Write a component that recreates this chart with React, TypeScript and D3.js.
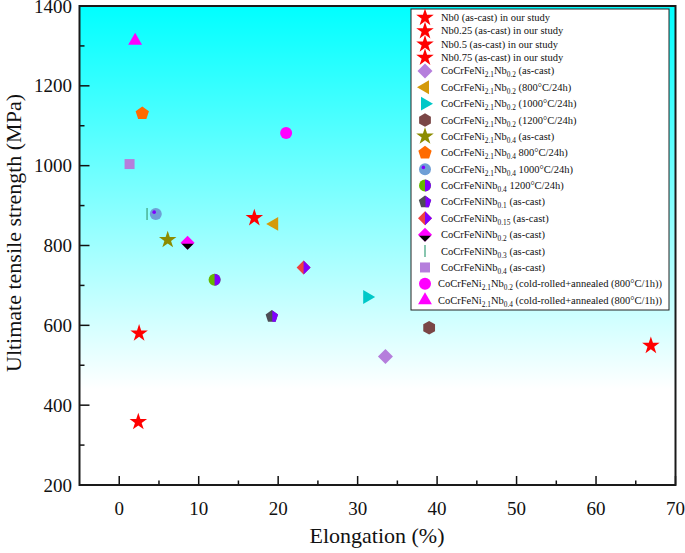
import React from "react";
import * as d3 from "d3";

// ---- data ----
const nb0 = [{ x: 2.5, y: 580 }];
const nb025 = [{ x: 2.4, y: 358 }];
const nb05 = [{ x: 17.0, y: 869 }];
const nb075 = [{ x: 66.9, y: 549 }];
const ni21nb02Cast = [{ x: 33.5, y: 522 }];
const ni21nb02_800 = [{ x: 19.5, y: 854 }];
const ni21nb02_1000 = [{ x: 31.2, y: 671 }];
const ni21nb02_1200 = [{ x: 39.0, y: 594 }];
const ni21nb04Cast = [{ x: 6.1, y: 814 }];
const ni21nb04_800 = [{ x: 2.9, y: 1131 }];
const ni21nb04_1000 = [{ x: 4.6, y: 879 }];
const nb04_1200 = [{ x: 12.0, y: 714 }];
const nb01Cast = [{ x: 19.2, y: 622 }];
const nb015Cast = [{ x: 23.2, y: 745 }];
const nb02Cast = [{ x: 8.6, y: 807 }];
const nb03Cast = [{ x: 3.5, y: 879 }];
const nb04Cast = [{ x: 1.3, y: 1004 }];
const ni21nb02Cold = [{ x: 21.0, y: 1082 }];
const ni21nb04Cold = [{ x: 2.0, y: 1313 }];

const seriesLabels = [
  "Nb0 (as-cast) in our study",
  "Nb0.25 (as-cast) in our study",
  "Nb0.5 (as-cast) in our study",
  "Nb0.75 (as-cast) in our study",
  "CoCrFeNi_{2.1}Nb_{0.2} (as-cast)",
  "CoCrFeNi_{2.1}Nb_{0.2} (800°C/24h)",
  "CoCrFeNi_{2.1}Nb_{0.2} (1000°C/24h)",
  "CoCrFeNi_{2.1}Nb_{0.2} (1200°C/24h)",
  "CoCrFeNi_{2.1}Nb_{0.4} (as-cast)",
  "CoCrFeNi_{2.1}Nb_{0.4} 800°C/24h)",
  "CoCrFeNi_{2.1}Nb_{0.4} 1000°C/24h)",
  "CoCrFeNiNb_{0.4} 1200°C/24h)",
  "CoCrFeNiNb_{0.1} (as-cast)",
  "CoCrFeNiNb_{0.15} (as-cast)",
  "CoCrFeNiNb_{0.2} (as-cast)",
  "CoCrFeNiNb_{0.3} (as-cast)",
  "CoCrFeNiNb_{0.4} (as-cast)",
  "CoCrFeNi_{2.1}Nb_{0.2} (cold-rolled+annealed (800°C/1h))",
  "CoCrFeNi_{2.1}Nb_{0.4} (cold-rolled+annealed (800°C/1h))",
];
const seriesData = [
  nb0, nb025, nb05, nb075, ni21nb02Cast, ni21nb02_800, ni21nb02_1000, ni21nb02_1200,
  ni21nb04Cast, ni21nb04_800, ni21nb04_1000, nb04_1200, nb01Cast, nb015Cast, nb02Cast,
  nb03Cast, nb04Cast, ni21nb02Cold, ni21nb04Cold,
];
const seriesMarkers = [
  "star", "star", "star", "star", "diamond", "triLeft", "triRight", "hexagon",
  "oliveStar", "pentagon", "blueCircle", "halfCircle", "halfPentagon", "halfDiamondLR",
  "halfDiamondTB", "vline", "square", "circle", "triUp",
];

const xTicks = [0, 10, 20, 30, 40, 50, 60, 70];
const yTicks = [200, 400, 600, 800, 1000, 1200, 1400];

const W = 685, H = 553;
const FONT = "serif";

function polygon(n: number, r: number, rot: number) {
  const pts: [number, number][] = [];
  for (let i = 0; i < n; i++) {
    const a = rot + (i * 2 * Math.PI) / n;
    pts.push([r * Math.cos(a), r * Math.sin(a)]);
  }
  return "M" + pts.map((p) => p.join(",")).join("L") + "Z";
}

let clipCounter = 0;

function Marker({ kind, cx, cy, s = 1 }: { kind: string; cx: number; cy: number; s?: number }) {
  const t = `translate(${cx},${cy}) scale(${s})`;
  const star = d3.symbol(d3.symbolStar, 95)()!;
  const id = `clip${clipCounter++}`;
  switch (kind) {
    case "star":
      return <path d={star} transform={t} fill="#ff0000" />;
    case "oliveStar":
      return <path d={star} transform={t} fill="#8c8c00" />;
    case "diamond":
      return <path d={polygon(4, 7.5, 0)} transform={t} fill="#b57edc" />;
    case "triLeft":
      return <path d={polygon(3, 8, Math.PI)} transform={t} fill="#d49a0a" />;
    case "triRight":
      return <path d={polygon(3, 8, 0)} transform={t} fill="#00c8c8" />;
    case "triUp":
      return <path d={polygon(3, 8, -Math.PI / 2)} transform={t} fill="#ff00ff" />;
    case "hexagon":
      return <path d={polygon(6, 6.8, -Math.PI / 2)} transform={t} fill="#7a4646" />;
    case "pentagon":
      return <path d={polygon(5, 7, -Math.PI / 2)} transform={t} fill="#ff6a00" />;
    case "square":
      return <rect x={-5} y={-5} width={10} height={10} transform={t} fill="#b57edc" />;
    case "circle":
      return <circle r={6} transform={t} fill="#ff00ff" />;
    case "vline":
      return <line x1={0} x2={0} y1={-6} y2={6} transform={t} stroke="#3aa07a" strokeWidth={1.2} />;
    case "blueCircle":
      return (
        <g transform={t}>
          <circle r={6} fill="#6f9fd6" />
          <circle cx={-1.6} cy={-1.8} r={1.8} fill="#8000ff" />
        </g>
      );
    case "halfCircle":
      return (
        <g transform={t}>
          <clipPath id={id}><rect x={0} y={-10} width={10} height={20} /></clipPath>
          <circle r={6} fill="#66b800" />
          <circle r={6} fill="#7f00ff" clipPath={`url(#${id})`} />
        </g>
      );
    case "halfPentagon":
      return (
        <g transform={t}>
          <clipPath id={id}><rect x={0.5} y={-10} width={10} height={20} /></clipPath>
          <path d={polygon(5, 6.5, -Math.PI / 2)} fill="#4d4d55" />
          <path d={polygon(5, 6.5, -Math.PI / 2)} fill="#8000ff" clipPath={`url(#${id})`} />
        </g>
      );
    case "halfDiamondLR":
      return (
        <g transform={t}>
          <clipPath id={id}><rect x={0} y={-10} width={10} height={20} /></clipPath>
          <path d={polygon(4, 7, 0)} fill="#f04040" />
          <path d={polygon(4, 7, 0)} fill="#8000ff" clipPath={`url(#${id})`} />
        </g>
      );
    case "halfDiamondTB":
      return (
        <g transform={t}>
          <clipPath id={id}><rect x={-10} y={1} width={20} height={10} /></clipPath>
          <path d={polygon(4, 7, 0)} fill="#ff00ff" />
          <path d={polygon(4, 7, 0)} fill="#000000" clipPath={`url(#${id})`} />
        </g>
      );
  }
  return null;
}

function RichLabel({ text, x, y, size }: { text: string; x: number; y: number; size: number }) {
  const parts: { s: string; sub: boolean }[] = [];
  const re = /_\{([^}]*)\}/g;
  let last = 0;
  let m: RegExpExecArray | null;
  while ((m = re.exec(text))) {
    if (m.index > last) parts.push({ s: text.slice(last, m.index), sub: false });
    parts.push({ s: m[1], sub: true });
    last = m.index + m[0].length;
  }
  if (last < text.length) parts.push({ s: text.slice(last), sub: false });
  const out: React.ReactNode[] = [];
  let prevSub = false;
  parts.forEach((p, i) => {
    const dy = p.sub && !prevSub ? 3 : !p.sub && prevSub ? -3 : 0;
    out.push(
      <tspan key={i} dy={dy} fontSize={p.sub ? size * 0.7 : size}>{p.s}</tspan>
    );
    prevSub = p.sub;
  });
  return (
    <text x={x} y={y + size * 0.33} fontFamily={FONT} fontSize={size} fill="#111">
      {out}
    </text>
  );
}

export default function App() {
  clipCounter = 0;
  const x = d3.scaleLinear().domain([-5, 70]).range([79.5, 675.5]);
  const y = d3.scaleLinear().domain([200, 1400]).range([485, 6]);
  const [x0, x1] = x.range();
  const [yb, yt] = y.range();
  const xMinor = d3.range(-5, 70, 5).filter((v) => v % 10 !== 0 && v > -5);
  const yMinor = d3.range(300, 1400, 200);

  const hasSub = seriesLabels.map((l) => l.includes("_{"));
  const legendY: number[] = [];
  seriesLabels.forEach((_, i) => {
    if (i === 0) legendY.push(17.7);
    else legendY.push(legendY[i - 1] + (hasSub[i] && hasSub[i - 1] ? 16.38 : 13.3));
  });

  return (
    <svg width={W} height={H} style={{ position: "absolute", left: 0, top: 0, background: "#fff" }}>
      <defs>
        <linearGradient id="bg" x1="0" y1="0" x2="0" y2="1">
          <stop offset="0" stopColor="#00ffff" />
          <stop offset="0.8" stopColor="#ffffff" />
          <stop offset="1" stopColor="#ffffff" />
        </linearGradient>
      </defs>
      <rect x={x0} y={yt} width={x1 - x0} height={yb - yt} fill="url(#bg)" />

      {/* x ticks */}
      {xTicks.map((v) => (
        <g key={"xt" + v}>
          <line x1={x(v)} x2={x(v)} y1={yb} y2={yb - 9} stroke="#111" strokeWidth={1.5} />
          <text x={x(v)} y={yb + 30} textAnchor="middle" fontFamily={FONT} fontSize={19} fill="#111">{v}</text>
        </g>
      ))}
      {xMinor.map((v) => (
        <line key={"xm" + v} x1={x(v)} x2={x(v)} y1={yb} y2={yb - 4.5} stroke="#111" strokeWidth={1.5} />
      ))}
      {/* y ticks */}
      {yTicks.map((v) => (
        <g key={"yt" + v}>
          <line x1={x0} x2={x0 + 10} y1={y(v)} y2={y(v)} stroke="#111" strokeWidth={1.5} />
          <text x={72} y={y(v) + 6.5} textAnchor="end" fontFamily={FONT} fontSize={19} fill="#111">{v}</text>
        </g>
      ))}
      {yMinor.map((v) => (
        <line key={"ym" + v} x1={x0} x2={x0 + 5} y1={y(v)} y2={y(v)} stroke="#111" strokeWidth={1.5} />
      ))}

      {/* frame */}
      <rect x={x0} y={yt} width={x1 - x0} height={yb - yt} fill="none" stroke="#1a1a1a" strokeWidth={2} />

      {/* points */}
      {seriesData.map((arr, i) =>
        arr.map((d, j) => <Marker key={`p${i}-${j}`} kind={seriesMarkers[i]} cx={x(d.x)} cy={y(d.y)} />)
      )}

      {/* legend */}
      <rect x={411} y={9} width={258} height={301} fill="#fff" stroke="#222" strokeWidth={1} />
      {seriesLabels.map((l, i) => (
        <g key={"lg" + i}>
          <Marker kind={seriesMarkers[i]} cx={425} cy={legendY[i]} />
          <RichLabel text={l} x={i >= 17 ? 438 : 441} y={legendY[i]} size={10.5} />
        </g>
      ))}

      {/* axis titles */}
      <text x={377} y={543} textAnchor="middle" fontFamily={FONT} fontSize={22} fill="#111">Elongation (%)</text>
      <text transform={`translate(21,233) rotate(-90)`} textAnchor="middle" fontFamily={FONT} fontSize={22} fill="#111">
        Ultimate tensile strength (MPa)
      </text>
    </svg>
  );
}
